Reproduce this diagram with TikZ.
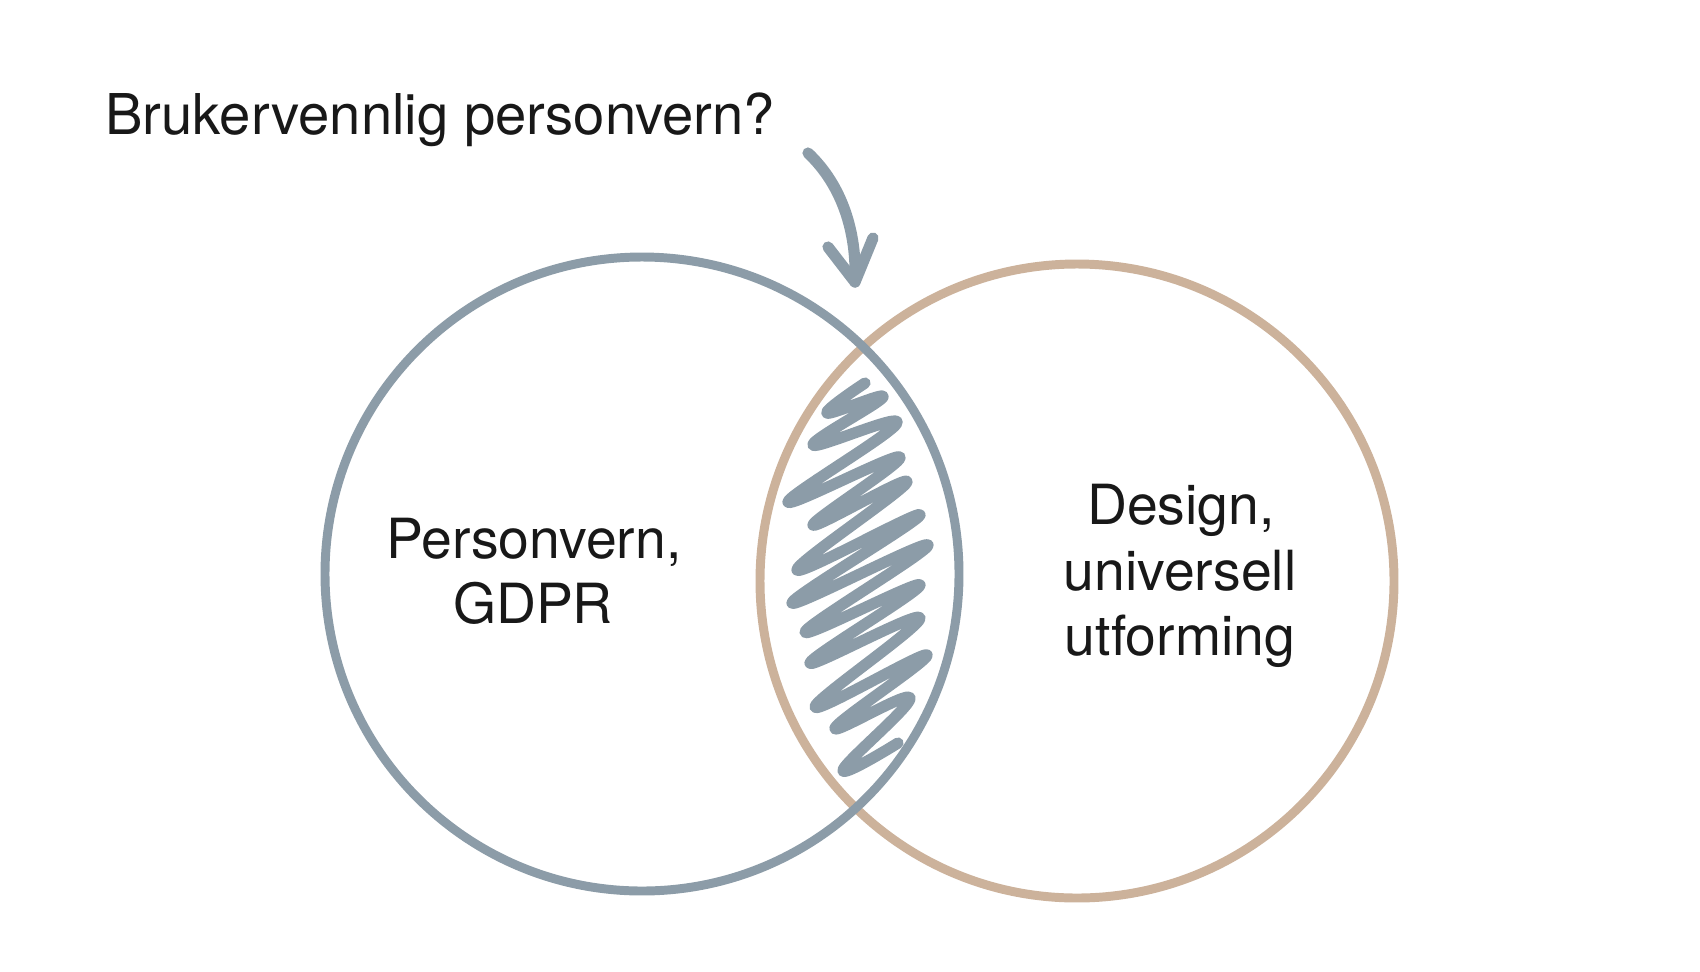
\documentclass[tikz,border=0pt]{standalone}
\usepackage{fontspec}
\setmainfont{TeX Gyre Heros}
\usetikzlibrary{calc}
\definecolor{slate}{RGB}{140,156,168}
\definecolor{sand}{RGB}{204,178,155}
\definecolor{ink}{RGB}{24,24,24}
\tikzstyle{ring}=[circle,draw,line width=5.1pt,inner sep=0pt,minimum size=634*0.02cm]
\tikzstyle{label}=[anchor=base,inner sep=0pt,text=ink,font=\fontsize{31.5}{37}\selectfont]
\tikzstyle{scribble}=[slate,line width=6.4pt,line cap=round,line join=round]
\begin{document}
\begin{tikzpicture}[x=0.02cm,y=-0.02cm]
\useasboundingbox (0,0) rectangle (1700,971);

  % the two sets
  \node[ring,sand] (design) at (1077,581) {};
  \node[ring,slate] (privacy) at (642,574) {};

  % labels
  \node[label] (priv1) at (534,558) {Personvern,};
  \node[label] (priv2) at (533,623) {GDPR};
  \node[label] (des1) at (1181,524) {Design,};
  \node[label] (des2) at (1180,590) {universell};
  \node[label] (des3) at (1180,655) {utforming};

  \node[label,anchor=base west,font=\fontsize{32}{38}\selectfont] (title) at (105,134) {Brukervennlig personvern?};

  % arrow to the overlap
  \coordinate (start) at (808,153);
  \coordinate (tip) at (855,282);
  \draw[scribble] (start) .. controls (842,185) and (857,232) .. (tip);
  \draw[scribble] ($(tip)+(-27,-35)$) -- (tip) -- ($(tip)+(18,-44)$);

  % hatching of the overlap
  \draw[scribble] plot[smooth,tension=0.7] coordinates {
    (865,383) (827,413) (883,397) (813,445) (897,423) (788,502)
    (900,457) (813,525) (907,482) (797,570) (920,515) (792,603)
    (928,545) (805,632) (920,585) (810,663) (920,618) (815,707)
    (927,655) (835,728) (910,698) (843,770) (898,743)};

\end{tikzpicture}
\end{document}
